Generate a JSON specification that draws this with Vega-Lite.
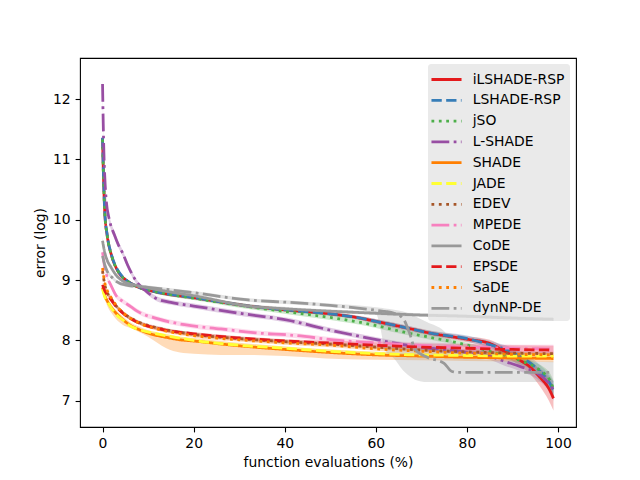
{
  "$schema": "https://vega.github.io/schema/vega-lite/v6.json",
  "width": 496,
  "height": 369,
  "autosize": {"type": "none"},
  "padding": {"left": 80, "top": 58, "right": 64, "bottom": 53},
  "background": "white",
  "data": {"values": [
    {"s":"iLSHADE-RSP","x":0,"y":11.35,"lo":11.3,"hi":11.42},
    {"s":"iLSHADE-RSP","x":0.25,"y":10.6,"lo":10.52,"hi":10.68},
    {"s":"iLSHADE-RSP","x":0.5,"y":10.1,"lo":10.04,"hi":10.16},
    {"s":"iLSHADE-RSP","x":1,"y":9.75,"lo":9.7,"hi":9.8},
    {"s":"iLSHADE-RSP","x":2,"y":9.4,"lo":9.36,"hi":9.44},
    {"s":"iLSHADE-RSP","x":3,"y":9.2,"lo":9.17,"hi":9.23},
    {"s":"iLSHADE-RSP","x":4,"y":9.08,"lo":9.05,"hi":9.11},
    {"s":"iLSHADE-RSP","x":5.5,"y":8.98,"lo":8.95,"hi":9.01},
    {"s":"iLSHADE-RSP","x":8,"y":8.88,"lo":8.85,"hi":8.91},
    {"s":"iLSHADE-RSP","x":12,"y":8.8,"lo":8.77,"hi":8.83},
    {"s":"iLSHADE-RSP","x":20,"y":8.71,"lo":8.68,"hi":8.74},
    {"s":"iLSHADE-RSP","x":32,"y":8.57,"lo":8.54,"hi":8.6},
    {"s":"iLSHADE-RSP","x":41,"y":8.5,"lo":8.47,"hi":8.53},
    {"s":"iLSHADE-RSP","x":50,"y":8.44,"lo":8.41,"hi":8.47},
    {"s":"iLSHADE-RSP","x":55,"y":8.39,"lo":8.36,"hi":8.42},
    {"s":"iLSHADE-RSP","x":61,"y":8.3,"lo":8.26,"hi":8.34},
    {"s":"iLSHADE-RSP","x":66,"y":8.22,"lo":8.18,"hi":8.26},
    {"s":"iLSHADE-RSP","x":72,"y":8.12,"lo":8.08,"hi":8.16},
    {"s":"iLSHADE-RSP","x":80,"y":8.02,"lo":7.97,"hi":8.07},
    {"s":"iLSHADE-RSP","x":85,"y":7.95,"lo":7.89,"hi":8.01},
    {"s":"iLSHADE-RSP","x":88,"y":7.83,"lo":7.76,"hi":7.9},
    {"s":"iLSHADE-RSP","x":91,"y":7.7,"lo":7.61,"hi":7.79},
    {"s":"iLSHADE-RSP","x":94,"y":7.55,"lo":7.43,"hi":7.66},
    {"s":"iLSHADE-RSP","x":96,"y":7.39,"lo":7.24,"hi":7.52},
    {"s":"iLSHADE-RSP","x":98,"y":7.2,"lo":7.0,"hi":7.37},
    {"s":"iLSHADE-RSP","x":99,"y":7.04,"lo":6.84,"hi":7.24},

    {"s":"LSHADE-RSP","x":0,"y":11.36,"lo":11.3,"hi":11.42},
    {"s":"LSHADE-RSP","x":0.25,"y":10.62,"lo":10.54,"hi":10.7},
    {"s":"LSHADE-RSP","x":0.5,"y":10.12,"lo":10.06,"hi":10.18},
    {"s":"LSHADE-RSP","x":1,"y":9.76,"lo":9.71,"hi":9.81},
    {"s":"LSHADE-RSP","x":2,"y":9.41,"lo":9.37,"hi":9.45},
    {"s":"LSHADE-RSP","x":3,"y":9.21,"lo":9.18,"hi":9.24},
    {"s":"LSHADE-RSP","x":4,"y":9.09,"lo":9.06,"hi":9.12},
    {"s":"LSHADE-RSP","x":5.5,"y":8.98,"lo":8.95,"hi":9.01},
    {"s":"LSHADE-RSP","x":8,"y":8.88,"lo":8.85,"hi":8.91},
    {"s":"LSHADE-RSP","x":12,"y":8.8,"lo":8.77,"hi":8.83},
    {"s":"LSHADE-RSP","x":20,"y":8.71,"lo":8.68,"hi":8.74},
    {"s":"LSHADE-RSP","x":32,"y":8.57,"lo":8.54,"hi":8.6},
    {"s":"LSHADE-RSP","x":41,"y":8.5,"lo":8.47,"hi":8.53},
    {"s":"LSHADE-RSP","x":50,"y":8.44,"lo":8.41,"hi":8.47},
    {"s":"LSHADE-RSP","x":55,"y":8.39,"lo":8.36,"hi":8.42},
    {"s":"LSHADE-RSP","x":61,"y":8.3,"lo":8.26,"hi":8.34},
    {"s":"LSHADE-RSP","x":66,"y":8.22,"lo":8.18,"hi":8.26},
    {"s":"LSHADE-RSP","x":72,"y":8.12,"lo":8.08,"hi":8.16},
    {"s":"LSHADE-RSP","x":80,"y":8.03,"lo":7.98,"hi":8.08},
    {"s":"LSHADE-RSP","x":85,"y":7.93,"lo":7.87,"hi":7.99},
    {"s":"LSHADE-RSP","x":88.8,"y":7.84,"lo":7.77,"hi":7.91},
    {"s":"LSHADE-RSP","x":91,"y":7.76,"lo":7.68,"hi":7.84},
    {"s":"LSHADE-RSP","x":94.5,"y":7.59,"lo":7.49,"hi":7.69},
    {"s":"LSHADE-RSP","x":96.5,"y":7.45,"lo":7.33,"hi":7.56},
    {"s":"LSHADE-RSP","x":98.2,"y":7.29,"lo":7.14,"hi":7.42},
    {"s":"LSHADE-RSP","x":99,"y":7.17,"lo":7.0,"hi":7.32},

    {"s":"jSO","x":0,"y":11.33,"lo":11.27,"hi":11.4},
    {"s":"jSO","x":0.25,"y":10.6,"lo":10.52,"hi":10.68},
    {"s":"jSO","x":0.5,"y":10.1,"lo":10.04,"hi":10.16},
    {"s":"jSO","x":1,"y":9.75,"lo":9.7,"hi":9.8},
    {"s":"jSO","x":2,"y":9.4,"lo":9.36,"hi":9.44},
    {"s":"jSO","x":3,"y":9.2,"lo":9.17,"hi":9.23},
    {"s":"jSO","x":4,"y":9.08,"lo":9.05,"hi":9.11},
    {"s":"jSO","x":5.5,"y":8.98,"lo":8.95,"hi":9.01},
    {"s":"jSO","x":8,"y":8.88,"lo":8.85,"hi":8.91},
    {"s":"jSO","x":12,"y":8.8,"lo":8.77,"hi":8.83},
    {"s":"jSO","x":20,"y":8.7,"lo":8.67,"hi":8.73},
    {"s":"jSO","x":32,"y":8.56,"lo":8.52,"hi":8.6},
    {"s":"jSO","x":41,"y":8.47,"lo":8.43,"hi":8.51},
    {"s":"jSO","x":50,"y":8.38,"lo":8.34,"hi":8.42},
    {"s":"jSO","x":55,"y":8.32,"lo":8.28,"hi":8.36},
    {"s":"jSO","x":61,"y":8.23,"lo":8.19,"hi":8.27},
    {"s":"jSO","x":66,"y":8.14,"lo":8.1,"hi":8.18},
    {"s":"jSO","x":72,"y":8.05,"lo":8.01,"hi":8.09},
    {"s":"jSO","x":78.5,"y":7.95,"lo":7.91,"hi":7.99},
    {"s":"jSO","x":85,"y":7.82,"lo":7.77,"hi":7.87},
    {"s":"jSO","x":90,"y":7.71,"lo":7.65,"hi":7.77},
    {"s":"jSO","x":93,"y":7.63,"lo":7.56,"hi":7.7},
    {"s":"jSO","x":95.4,"y":7.54,"lo":7.45,"hi":7.62},
    {"s":"jSO","x":97,"y":7.45,"lo":7.34,"hi":7.55},
    {"s":"jSO","x":98.2,"y":7.34,"lo":7.21,"hi":7.46},
    {"s":"jSO","x":99,"y":7.2,"lo":7.05,"hi":7.34},

    {"s":"L-SHADE","x":0,"y":12.25,"lo":12.15,"hi":12.35},
    {"s":"L-SHADE","x":0.15,"y":11.6,"lo":11.5,"hi":11.7},
    {"s":"L-SHADE","x":0.3,"y":11.1,"lo":11.0,"hi":11.2},
    {"s":"L-SHADE","x":0.5,"y":10.7,"lo":10.61,"hi":10.79},
    {"s":"L-SHADE","x":0.8,"y":10.33,"lo":10.25,"hi":10.41},
    {"s":"L-SHADE","x":1.5,"y":10.0,"lo":9.93,"hi":10.07},
    {"s":"L-SHADE","x":2.6,"y":9.75,"lo":9.69,"hi":9.81},
    {"s":"L-SHADE","x":3.5,"y":9.58,"lo":9.53,"hi":9.63},
    {"s":"L-SHADE","x":4.4,"y":9.45,"lo":9.4,"hi":9.5},
    {"s":"L-SHADE","x":5.5,"y":9.25,"lo":9.2,"hi":9.3},
    {"s":"L-SHADE","x":7.5,"y":8.97,"lo":8.93,"hi":9.01},
    {"s":"L-SHADE","x":9.5,"y":8.82,"lo":8.78,"hi":8.86},
    {"s":"L-SHADE","x":11.9,"y":8.69,"lo":8.65,"hi":8.73},
    {"s":"L-SHADE","x":15,"y":8.63,"lo":8.59,"hi":8.67},
    {"s":"L-SHADE","x":20,"y":8.57,"lo":8.53,"hi":8.61},
    {"s":"L-SHADE","x":30,"y":8.45,"lo":8.41,"hi":8.49},
    {"s":"L-SHADE","x":41,"y":8.33,"lo":8.29,"hi":8.37},
    {"s":"L-SHADE","x":50,"y":8.17,"lo":8.13,"hi":8.21},
    {"s":"L-SHADE","x":61,"y":8.0,"lo":7.96,"hi":8.04},
    {"s":"L-SHADE","x":66,"y":7.93,"lo":7.89,"hi":7.97},
    {"s":"L-SHADE","x":72,"y":7.87,"lo":7.83,"hi":7.91},
    {"s":"L-SHADE","x":80,"y":7.8,"lo":7.75,"hi":7.85},
    {"s":"L-SHADE","x":85,"y":7.74,"lo":7.68,"hi":7.8},
    {"s":"L-SHADE","x":88,"y":7.66,"lo":7.59,"hi":7.73},
    {"s":"L-SHADE","x":91.6,"y":7.57,"lo":7.49,"hi":7.65},
    {"s":"L-SHADE","x":95.4,"y":7.46,"lo":7.36,"hi":7.56},
    {"s":"L-SHADE","x":97.5,"y":7.33,"lo":7.21,"hi":7.45},
    {"s":"L-SHADE","x":99,"y":7.18,"lo":7.04,"hi":7.32},

    {"s":"SHADE","x":0,"y":8.88,"lo":8.84,"hi":8.93},
    {"s":"SHADE","x":0.5,"y":8.74,"lo":8.68,"hi":8.79},
    {"s":"SHADE","x":1,"y":8.66,"lo":8.58,"hi":8.71},
    {"s":"SHADE","x":2,"y":8.54,"lo":8.45,"hi":8.59},
    {"s":"SHADE","x":3,"y":8.45,"lo":8.35,"hi":8.5},
    {"s":"SHADE","x":4.4,"y":8.35,"lo":8.26,"hi":8.4},
    {"s":"SHADE","x":6.3,"y":8.24,"lo":8.2,"hi":8.29},
    {"s":"SHADE","x":8,"y":8.18,"lo":8.14,"hi":8.23},
    {"s":"SHADE","x":10,"y":8.12,"lo":8.06,"hi":8.17},
    {"s":"SHADE","x":12,"y":8.08,"lo":7.96,"hi":8.13},
    {"s":"SHADE","x":14,"y":8.05,"lo":7.87,"hi":8.1},
    {"s":"SHADE","x":17,"y":8.01,"lo":7.8,"hi":8.06},
    {"s":"SHADE","x":20,"y":7.99,"lo":7.78,"hi":8.04},
    {"s":"SHADE","x":26,"y":7.94,"lo":7.76,"hi":7.99},
    {"s":"SHADE","x":30,"y":7.91,"lo":7.76,"hi":7.96},
    {"s":"SHADE","x":40,"y":7.85,"lo":7.74,"hi":7.9},
    {"s":"SHADE","x":52,"y":7.79,"lo":7.69,"hi":7.84},
    {"s":"SHADE","x":60,"y":7.76,"lo":7.68,"hi":7.81},
    {"s":"SHADE","x":70,"y":7.74,"lo":7.67,"hi":7.79},
    {"s":"SHADE","x":80,"y":7.72,"lo":7.66,"hi":7.77},
    {"s":"SHADE","x":90,"y":7.71,"lo":7.65,"hi":7.76},
    {"s":"SHADE","x":99,"y":7.7,"lo":7.64,"hi":7.75},

    {"s":"JADE","x":0,"y":8.85,"lo":8.82,"hi":8.88},
    {"s":"JADE","x":0.5,"y":8.72,"lo":8.69,"hi":8.75},
    {"s":"JADE","x":1,"y":8.65,"lo":8.62,"hi":8.68},
    {"s":"JADE","x":2,"y":8.53,"lo":8.5,"hi":8.56},
    {"s":"JADE","x":3,"y":8.43,"lo":8.4,"hi":8.46},
    {"s":"JADE","x":4.8,"y":8.32,"lo":8.29,"hi":8.35},
    {"s":"JADE","x":6.3,"y":8.23,"lo":8.2,"hi":8.26},
    {"s":"JADE","x":8,"y":8.18,"lo":8.15,"hi":8.21},
    {"s":"JADE","x":12.5,"y":8.1,"lo":8.07,"hi":8.13},
    {"s":"JADE","x":20,"y":8.0,"lo":7.97,"hi":8.03},
    {"s":"JADE","x":30,"y":7.92,"lo":7.89,"hi":7.95},
    {"s":"JADE","x":40,"y":7.87,"lo":7.84,"hi":7.9},
    {"s":"JADE","x":52,"y":7.81,"lo":7.78,"hi":7.84},
    {"s":"JADE","x":60,"y":7.78,"lo":7.75,"hi":7.81},
    {"s":"JADE","x":70,"y":7.76,"lo":7.73,"hi":7.79},
    {"s":"JADE","x":80,"y":7.75,"lo":7.72,"hi":7.78},
    {"s":"JADE","x":90,"y":7.74,"lo":7.71,"hi":7.77},
    {"s":"JADE","x":99,"y":7.74,"lo":7.71,"hi":7.77},

    {"s":"EDEV","x":0,"y":9.15,"lo":9.1,"hi":9.2},
    {"s":"EDEV","x":0.5,"y":8.92,"lo":8.88,"hi":8.96},
    {"s":"EDEV","x":1,"y":8.8,"lo":8.77,"hi":8.83},
    {"s":"EDEV","x":1.8,"y":8.7,"lo":8.67,"hi":8.73},
    {"s":"EDEV","x":3,"y":8.57,"lo":8.54,"hi":8.6},
    {"s":"EDEV","x":4.8,"y":8.44,"lo":8.41,"hi":8.47},
    {"s":"EDEV","x":7.7,"y":8.31,"lo":8.28,"hi":8.34},
    {"s":"EDEV","x":12.5,"y":8.2,"lo":8.17,"hi":8.23},
    {"s":"EDEV","x":20,"y":8.1,"lo":8.07,"hi":8.13},
    {"s":"EDEV","x":30,"y":8.03,"lo":8.0,"hi":8.06},
    {"s":"EDEV","x":40,"y":7.98,"lo":7.95,"hi":8.01},
    {"s":"EDEV","x":52,"y":7.93,"lo":7.9,"hi":7.96},
    {"s":"EDEV","x":60,"y":7.89,"lo":7.86,"hi":7.92},
    {"s":"EDEV","x":70,"y":7.84,"lo":7.81,"hi":7.87},
    {"s":"EDEV","x":80,"y":7.81,"lo":7.78,"hi":7.84},
    {"s":"EDEV","x":90,"y":7.79,"lo":7.76,"hi":7.82},
    {"s":"EDEV","x":99,"y":7.78,"lo":7.75,"hi":7.81},

    {"s":"MPEDE","x":0,"y":9.46,"lo":9.41,"hi":9.51},
    {"s":"MPEDE","x":0.5,"y":9.2,"lo":9.16,"hi":9.24},
    {"s":"MPEDE","x":1,"y":9.05,"lo":9.01,"hi":9.09},
    {"s":"MPEDE","x":1.8,"y":8.92,"lo":8.88,"hi":8.96},
    {"s":"MPEDE","x":3,"y":8.74,"lo":8.7,"hi":8.78},
    {"s":"MPEDE","x":4.4,"y":8.65,"lo":8.61,"hi":8.69},
    {"s":"MPEDE","x":6.2,"y":8.56,"lo":8.52,"hi":8.6},
    {"s":"MPEDE","x":7.7,"y":8.48,"lo":8.44,"hi":8.52},
    {"s":"MPEDE","x":12,"y":8.36,"lo":8.32,"hi":8.4},
    {"s":"MPEDE","x":18,"y":8.26,"lo":8.22,"hi":8.3},
    {"s":"MPEDE","x":26,"y":8.19,"lo":8.15,"hi":8.23},
    {"s":"MPEDE","x":34.5,"y":8.12,"lo":8.08,"hi":8.16},
    {"s":"MPEDE","x":41,"y":8.09,"lo":8.05,"hi":8.13},
    {"s":"MPEDE","x":52,"y":8.0,"lo":7.96,"hi":8.04},
    {"s":"MPEDE","x":60,"y":7.96,"lo":7.92,"hi":8.0},
    {"s":"MPEDE","x":69,"y":7.92,"lo":7.87,"hi":7.97},
    {"s":"MPEDE","x":80,"y":7.89,"lo":7.83,"hi":7.95},
    {"s":"MPEDE","x":90,"y":7.87,"lo":7.81,"hi":7.93},
    {"s":"MPEDE","x":99,"y":7.86,"lo":7.79,"hi":7.93},

    {"s":"CoDE","x":0,"y":9.65,"lo":9.59,"hi":9.71},
    {"s":"CoDE","x":0.5,"y":9.45,"lo":9.4,"hi":9.5},
    {"s":"CoDE","x":1,"y":9.33,"lo":9.29,"hi":9.37},
    {"s":"CoDE","x":1.8,"y":9.22,"lo":9.18,"hi":9.26},
    {"s":"CoDE","x":3,"y":9.08,"lo":9.05,"hi":9.11},
    {"s":"CoDE","x":4.8,"y":8.97,"lo":8.94,"hi":9.0},
    {"s":"CoDE","x":7,"y":8.92,"lo":8.89,"hi":8.95},
    {"s":"CoDE","x":10,"y":8.87,"lo":8.84,"hi":8.9},
    {"s":"CoDE","x":15,"y":8.8,"lo":8.77,"hi":8.83},
    {"s":"CoDE","x":20,"y":8.74,"lo":8.71,"hi":8.77},
    {"s":"CoDE","x":32,"y":8.57,"lo":8.54,"hi":8.6},
    {"s":"CoDE","x":41,"y":8.52,"lo":8.49,"hi":8.55},
    {"s":"CoDE","x":54,"y":8.47,"lo":8.44,"hi":8.5},
    {"s":"CoDE","x":60,"y":8.45,"lo":8.42,"hi":8.48},
    {"s":"CoDE","x":70,"y":8.42,"lo":8.39,"hi":8.45},
    {"s":"CoDE","x":80,"y":8.4,"lo":8.37,"hi":8.43},
    {"s":"CoDE","x":90,"y":8.37,"lo":8.34,"hi":8.4},
    {"s":"CoDE","x":99,"y":8.35,"lo":8.32,"hi":8.38},

    {"s":"EPSDE","x":0,"y":8.92,"lo":8.88,"hi":8.96},
    {"s":"EPSDE","x":0.5,"y":8.82,"lo":8.79,"hi":8.85},
    {"s":"EPSDE","x":1,"y":8.76,"lo":8.73,"hi":8.79},
    {"s":"EPSDE","x":1.8,"y":8.68,"lo":8.65,"hi":8.71},
    {"s":"EPSDE","x":3,"y":8.56,"lo":8.53,"hi":8.59},
    {"s":"EPSDE","x":4.8,"y":8.43,"lo":8.4,"hi":8.46},
    {"s":"EPSDE","x":7.7,"y":8.3,"lo":8.27,"hi":8.33},
    {"s":"EPSDE","x":12.5,"y":8.19,"lo":8.16,"hi":8.22},
    {"s":"EPSDE","x":20,"y":8.11,"lo":8.08,"hi":8.14},
    {"s":"EPSDE","x":30,"y":8.04,"lo":8.01,"hi":8.07},
    {"s":"EPSDE","x":40,"y":7.99,"lo":7.96,"hi":8.02},
    {"s":"EPSDE","x":52,"y":7.95,"lo":7.91,"hi":7.99},
    {"s":"EPSDE","x":60,"y":7.92,"lo":7.87,"hi":7.97},
    {"s":"EPSDE","x":70,"y":7.89,"lo":7.83,"hi":7.95},
    {"s":"EPSDE","x":80,"y":7.87,"lo":7.8,"hi":7.94},
    {"s":"EPSDE","x":90,"y":7.85,"lo":7.78,"hi":7.92},
    {"s":"EPSDE","x":99,"y":7.84,"lo":7.77,"hi":7.91},

    {"s":"SaDE","x":0,"y":9.2,"lo":9.15,"hi":9.25},
    {"s":"SaDE","x":0.5,"y":8.95,"lo":8.91,"hi":8.99},
    {"s":"SaDE","x":1,"y":8.83,"lo":8.8,"hi":8.86},
    {"s":"SaDE","x":1.8,"y":8.72,"lo":8.69,"hi":8.75},
    {"s":"SaDE","x":3,"y":8.58,"lo":8.55,"hi":8.61},
    {"s":"SaDE","x":4.8,"y":8.44,"lo":8.41,"hi":8.47},
    {"s":"SaDE","x":7.7,"y":8.3,"lo":8.27,"hi":8.33},
    {"s":"SaDE","x":12.5,"y":8.18,"lo":8.15,"hi":8.21},
    {"s":"SaDE","x":20,"y":8.08,"lo":8.05,"hi":8.11},
    {"s":"SaDE","x":30,"y":8.01,"lo":7.98,"hi":8.04},
    {"s":"SaDE","x":40,"y":7.96,"lo":7.93,"hi":7.99},
    {"s":"SaDE","x":52,"y":7.91,"lo":7.88,"hi":7.94},
    {"s":"SaDE","x":60,"y":7.86,"lo":7.83,"hi":7.89},
    {"s":"SaDE","x":70,"y":7.82,"lo":7.79,"hi":7.85},
    {"s":"SaDE","x":80,"y":7.79,"lo":7.76,"hi":7.82},
    {"s":"SaDE","x":90,"y":7.77,"lo":7.74,"hi":7.8},
    {"s":"SaDE","x":99,"y":7.76,"lo":7.73,"hi":7.79},

    {"s":"dynNP-DE","x":0,"y":9.4,"lo":9.32,"hi":9.48},
    {"s":"dynNP-DE","x":0.5,"y":9.25,"lo":9.2,"hi":9.3},
    {"s":"dynNP-DE","x":1,"y":9.15,"lo":9.11,"hi":9.19},
    {"s":"dynNP-DE","x":2,"y":9.05,"lo":9.02,"hi":9.08},
    {"s":"dynNP-DE","x":3,"y":8.98,"lo":8.95,"hi":9.01},
    {"s":"dynNP-DE","x":5,"y":8.92,"lo":8.89,"hi":8.95},
    {"s":"dynNP-DE","x":10,"y":8.88,"lo":8.85,"hi":8.91},
    {"s":"dynNP-DE","x":20,"y":8.79,"lo":8.76,"hi":8.82},
    {"s":"dynNP-DE","x":32,"y":8.67,"lo":8.64,"hi":8.7},
    {"s":"dynNP-DE","x":41,"y":8.63,"lo":8.6,"hi":8.66},
    {"s":"dynNP-DE","x":50,"y":8.58,"lo":8.55,"hi":8.61},
    {"s":"dynNP-DE","x":60,"y":8.5,"lo":8.45,"hi":8.55},
    {"s":"dynNP-DE","x":61,"y":8.49,"lo":8.2,"hi":8.54},
    {"s":"dynNP-DE","x":62,"y":8.48,"lo":7.84,"hi":8.53},
    {"s":"dynNP-DE","x":64,"y":8.45,"lo":7.7,"hi":8.51},
    {"s":"dynNP-DE","x":66,"y":8.36,"lo":7.5,"hi":8.48},
    {"s":"dynNP-DE","x":67.5,"y":8.1,"lo":7.4,"hi":8.44},
    {"s":"dynNP-DE","x":68.6,"y":7.85,"lo":7.35,"hi":8.4},
    {"s":"dynNP-DE","x":71.3,"y":7.72,"lo":7.31,"hi":8.3},
    {"s":"dynNP-DE","x":75,"y":7.62,"lo":7.31,"hi":8.15},
    {"s":"dynNP-DE","x":76.6,"y":7.49,"lo":7.31,"hi":8.0},
    {"s":"dynNP-DE","x":78,"y":7.47,"lo":7.31,"hi":7.85},
    {"s":"dynNP-DE","x":82,"y":7.47,"lo":7.31,"hi":7.7},
    {"s":"dynNP-DE","x":90,"y":7.47,"lo":7.31,"hi":7.66},
    {"s":"dynNP-DE","x":99,"y":7.47,"lo":7.31,"hi":7.65}
  ]},
  "encoding": {
    "x": {
      "field": "x", "type": "quantitative",
      "scale": {"domain": [-4.95, 103.95], "nice": false, "zero": false},
      "axis": {"values": [0, 20, 40, 60, 80, 100], "format": "d", "title": "function evaluations (%)"}
    }
  },
  "layer": [
    {
      "encoding": {
        "y": {"field": "lo", "type": "quantitative", "scale": {"domain": [6.565, 12.68], "nice": false, "zero": false}},
        "y2": {"field": "hi"},
        "detail": {"field": "s", "type": "nominal"}
      },
      "layer": [
        {"transform": [{"filter": {"field": "s", "oneOf": ["iLSHADE-RSP", "EPSDE"]}}],
         "mark": {"type": "area", "color": "#e41a1c", "opacity": 0.28, "interpolate": "monotone"}},
        {"transform": [{"filter": {"field": "s", "equal": "LSHADE-RSP"}}],
         "mark": {"type": "area", "color": "#377eb8", "opacity": 0.28, "interpolate": "monotone"}},
        {"transform": [{"filter": {"field": "s", "equal": "jSO"}}],
         "mark": {"type": "area", "color": "#4daf4a", "opacity": 0.28, "interpolate": "monotone"}},
        {"transform": [{"filter": {"field": "s", "equal": "L-SHADE"}}],
         "mark": {"type": "area", "color": "#984ea3", "opacity": 0.28, "interpolate": "monotone"}},
        {"transform": [{"filter": {"field": "s", "oneOf": ["SHADE", "SaDE"]}}],
         "mark": {"type": "area", "color": "#ff7f00", "opacity": 0.28, "interpolate": "monotone"}},
        {"transform": [{"filter": {"field": "s", "equal": "JADE"}}],
         "mark": {"type": "area", "color": "#ffff33", "opacity": 0.28, "interpolate": "monotone"}},
        {"transform": [{"filter": {"field": "s", "equal": "EDEV"}}],
         "mark": {"type": "area", "color": "#a65628", "opacity": 0.28, "interpolate": "monotone"}},
        {"transform": [{"filter": {"field": "s", "equal": "MPEDE"}}],
         "mark": {"type": "area", "color": "#f781bf", "opacity": 0.28, "interpolate": "monotone"}},
        {"transform": [{"filter": {"field": "s", "oneOf": ["CoDE", "dynNP-DE"]}}],
         "mark": {"type": "area", "color": "#999999", "opacity": 0.28, "interpolate": "monotone"}}
      ]
    },
    {
      "mark": {"type": "line", "strokeWidth": 2.78, "interpolate": "monotone"},
      "encoding": {
        "y": {
          "field": "y", "type": "quantitative",
          "scale": {"domain": [6.565, 12.68], "nice": false, "zero": false},
          "axis": {"values": [7, 8, 9, 10, 11, 12], "format": "d", "title": "error (log)"}
        },
        "color": {
          "field": "s", "type": "nominal", "title": null,
          "scale": {
            "domain": ["iLSHADE-RSP", "LSHADE-RSP", "jSO", "L-SHADE", "SHADE", "JADE", "EDEV", "MPEDE", "CoDE", "EPSDE", "SaDE", "dynNP-DE"],
            "range": ["#e41a1c", "#377eb8", "#4daf4a", "#984ea3", "#ff7f00", "#ffff33", "#a65628", "#f781bf", "#999999", "#e41a1c", "#ff7f00", "#999999"]
          },
          "legend": {
            "orient": "top-right", "offset": 6,
            "symbolType": "M-1.67,0L1.67,0", "symbolSize": 324, "symbolStrokeWidth": 2.78,
            "symbolOffset": 3, "labelOffset": 15.7, "rowPadding": 2.8, "padding": 5,
            "fillColor": "rgba(229,229,229,0.8)", "cornerRadius": 3
          }
        },
        "strokeDash": {
          "field": "s", "type": "nominal", "title": null,
          "scale": {
            "domain": ["iLSHADE-RSP", "LSHADE-RSP", "jSO", "L-SHADE", "SHADE", "JADE", "EDEV", "MPEDE", "CoDE", "EPSDE", "SaDE", "dynNP-DE"],
            "range": [[1, 0], [10.3, 4.4], [2.78, 4.6], [17.8, 4.4, 2.78, 4.4], [1, 0], [10.3, 4.4], [2.78, 4.6], [17.8, 4.4, 2.78, 4.4], [1, 0], [10.3, 4.4], [2.78, 4.6], [17.8, 4.4, 2.78, 4.4]]
          },
          "legend": {
            "orient": "top-right", "offset": 6,
            "symbolType": "M-1.67,0L1.67,0", "symbolSize": 324, "symbolStrokeWidth": 2.78,
            "symbolOffset": 3, "labelOffset": 15.7, "rowPadding": 2.8, "padding": 5,
            "fillColor": "rgba(229,229,229,0.8)", "cornerRadius": 3
          }
        }
      }
    }
  ],
  "config": {
    "view": {"stroke": "black", "strokeWidth": 1.1},
    "axis": {
      "domain": false, "grid": false,
      "tickColor": "black", "tickWidth": 1.1, "tickSize": 4.9,
      "labelFont": "DejaVu Sans", "labelFontSize": 13.9, "labelColor": "black", "labelPadding": 4.9,
      "titleFont": "DejaVu Sans", "titleFontSize": 13.9, "titleFontWeight": "normal", "titleColor": "black", "titlePadding": 5
    },
    "legend": {
      "labelFont": "DejaVu Sans", "labelFontSize": 13.9, "labelColor": "black", "labelLimit": 200
    }
  }
}
